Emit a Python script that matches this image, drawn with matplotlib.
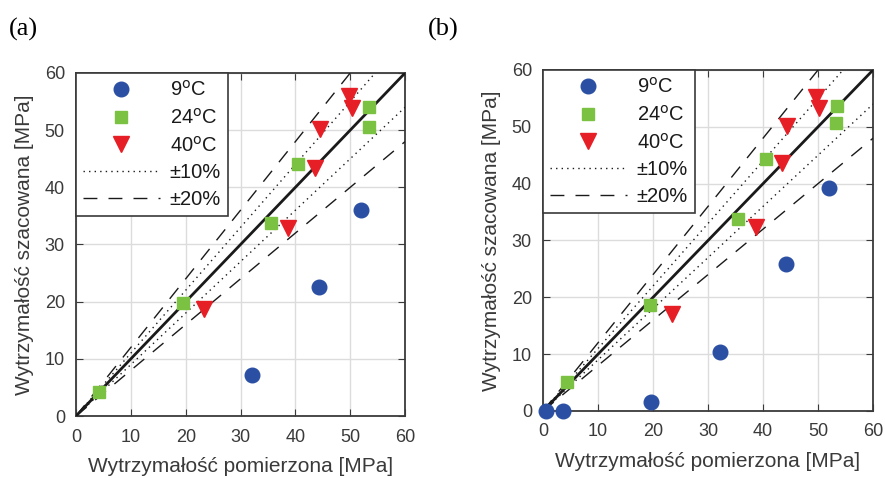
import numpy as np
import matplotlib.pyplot as plt
from matplotlib.lines import Line2D

plt.rcParams['font.family'] = ['Liberation Sans', 'DejaVu Sans']

# panel (a)
a_9_x = [32.1, 44.3, 52.0]
a_9_y = [7.1, 22.6, 36.0]
a_24_x = [4.1, 19.5, 35.5, 40.5, 53.5, 53.4]
a_24_y = [4.2, 19.7, 33.7, 44.0, 54.1, 50.5]
a_40_x = [23.3, 38.7, 43.5, 44.4, 49.8, 50.3]
a_40_y = [18.7, 32.8, 43.4, 50.2, 55.9, 53.8]

# panel (b)
b_9_x = [0.5, 3.6, 19.7, 32.1, 44.2, 51.9]
b_9_y = [0.0, 0.0, 1.5, 10.4, 25.8, 39.3]
b_24_x = [4.4, 19.5, 35.5, 40.5, 53.4, 53.2]
b_24_y = [5.1, 18.6, 33.7, 44.4, 53.6, 50.6]
b_40_x = [23.4, 38.7, 43.4, 44.3, 49.7, 50.2]
b_40_y = [17.0, 32.3, 43.6, 50.1, 55.2, 53.3]

ticks = [0, 10, 20, 30, 40, 50, 60]
labels = ['9$^{\\rm o}$C', '24$^{\\rm o}$C', '40$^{\\rm o}$C', '\u00b110%', '\u00b120%']

c_blue = '#2b4fa3'
c_green = '#7cc242'
c_red = '#e61f26'
c_edge = '#3a3a3a'


def draw_panel(ax, x9, y9, x24, y24, x40, y40):
    ax.set_xlim(0, 60)
    ax.set_ylim(0, 60)
    ax.set_xticks(ticks)
    ax.set_yticks(ticks)
    ax.grid(True, color='#dcdcdc', linewidth=1.0)
    ax.set_axisbelow(True)
    ax.tick_params(direction='in', top=True, right=True, labelsize=13,
                   length=5, color=c_edge, labelcolor='#3a3a3a')
    ax.tick_params(axis='x', pad=9)
    ax.tick_params(axis='y', pad=8)
    for s in ax.spines.values():
        s.set_color(c_edge)
        s.set_linewidth(1.3)

    xx = np.array([0, 60])
    ax.plot(xx, xx, color='#1a1a1a', lw=2.0, zorder=3)
    ax.plot(xx, 1.1 * xx, color='#1a1a1a', lw=1.0, ls=(0, (1, 3)), zorder=3)
    ax.plot(xx, 0.9 * xx, color='#1a1a1a', lw=1.0, ls=(0, (1, 3)), zorder=3)
    ax.plot(xx, 1.2 * xx, color='#1a1a1a', lw=1.0, ls=(0, (10, 8)), zorder=3)
    ax.plot(xx, 0.8 * xx, color='#1a1a1a', lw=1.0, ls=(0, (10, 8)), zorder=3)

    ax.plot(x9, y9, 'o', color=c_blue, ms=10.5, zorder=4, clip_on=False)
    ax.plot(x24, y24, 's', color=c_green, ms=8, zorder=4, clip_on=False)
    ax.plot(x40, y40, 'v', color=c_red, ms=11, zorder=4, clip_on=False)

    handles = [
        Line2D([], [], ls='none', marker='o', color=c_blue, ms=10.5),
        Line2D([], [], ls='none', marker='s', color=c_green, ms=8),
        Line2D([], [], ls='none', marker='v', color=c_red, ms=11),
        Line2D([], [], color='#1a1a1a', lw=1.0, ls=(0, (1, 3))),
        Line2D([], [], color='#1a1a1a', lw=1.0, ls=(0, (10, 8))),
    ]
    leg = ax.legend(handles, labels, loc='upper left', borderaxespad=0,
                    fontsize=14.5, handlelength=3.8, handletextpad=0.5,
                    labelspacing=0.38, borderpad=0.35, fancybox=False,
                    framealpha=1, edgecolor=c_edge, numpoints=1)
    leg.get_frame().set_linewidth(1.2)
    for t in leg.get_texts():
        t.set_color('#1a1a1a')

    ax.set_xlabel('Wytrzyma\u0142o\u015b\u0107 pomierzona [MPa]', fontsize=15,
                  color='#3a3a3a', labelpad=8)
    ax.set_ylabel('Wytrzyma\u0142o\u015b\u0107 szacowana [MPa]', fontsize=15,
                  color='#3a3a3a', labelpad=8)


fig = plt.figure(figsize=(8.85, 4.78), dpi=100)
ax1 = fig.add_axes([0.0859, 0.1297, 0.3718, 0.7176])
ax2 = fig.add_axes([0.6136, 0.1402, 0.3729, 0.7134])
draw_panel(ax1, a_9_x, a_9_y, a_24_x, a_24_y, a_40_x, a_40_y)
draw_panel(ax2, b_9_x, b_9_y, b_24_x, b_24_y, b_40_x, b_40_y)

fig.text(0.010, 0.925, '(a)', family=['Liberation Serif'], fontsize=19)
fig.text(0.483, 0.925, '(b)', family=['Liberation Serif'], fontsize=19)

fig.savefig('out.png', dpi=100)
